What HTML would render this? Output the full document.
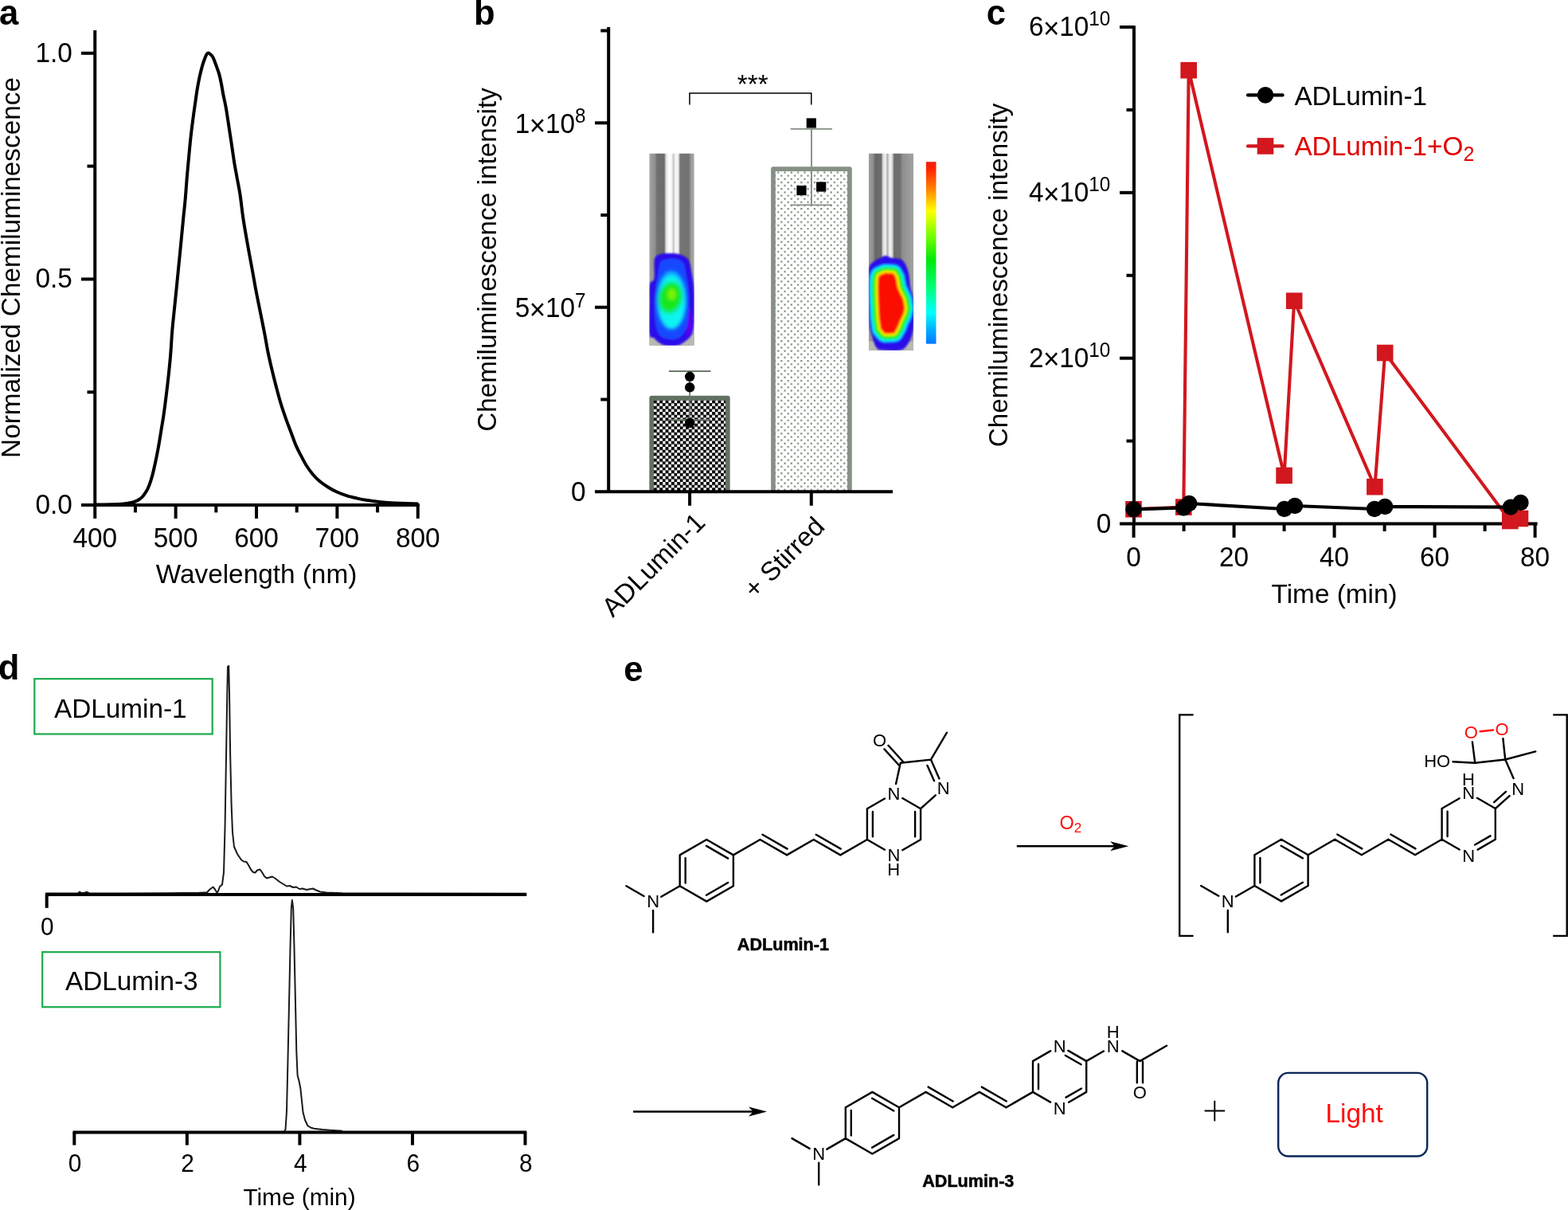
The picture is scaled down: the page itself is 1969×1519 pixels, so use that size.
<!DOCTYPE html>
<html lang="en"><head><meta charset="utf-8"><title>ADLumin-1 chemiluminescence figure</title>
<style>
html,body{margin:0;padding:0;background:#fff;}
body{width:1969px;height:1519px;overflow:hidden;}
svg{display:block;}
svg text{font-family:"Liberation Sans",sans-serif;fill:#000;}
.t{font-size:33.33px;}
.s{font-size:29.8px;}
.pl{font-size:43.6px;font-weight:bold;}
.ax{stroke:#000;stroke-width:4;fill:none;stroke-linecap:butt;}
.bond{stroke:#000;stroke-width:1.9;fill:none;stroke-linecap:round;}
.ml{font-size:21.6px;font-weight:bold;stroke:#000;stroke-width:0.55px;}
</style></head><body>
<svg width="1969" height="1519" viewBox="0 0 1969 1519">
<rect width="1969" height="1519" fill="#fff"/>
<g id="panel-a">
<text class="pl" x="-0.9" y="31" text-anchor="start">a</text>
<line class="ax" x1="119.25" y1="38" x2="119.25" y2="635.5"/>
<line class="ax" x1="102" y1="634" x2="526.8" y2="634"/>
<line class="ax" x1="102" y1="66.8" x2="119.25" y2="66.8"/>
<text class="t" transform="translate(90.8,77.7) scale(0.9579,1)" style="font-size:34.80px" text-anchor="end">1.0</text>
<line class="ax" x1="102" y1="350.45" x2="119.25" y2="350.45"/>
<text class="t" transform="translate(90.8,361.35) scale(0.9579,1)" style="font-size:34.80px" text-anchor="end">0.5</text>
<text class="t" transform="translate(90.8,645) scale(0.9579,1)" style="font-size:34.80px" text-anchor="end">0.0</text>
<line class="ax" x1="109.5" y1="208.63" x2="119.25" y2="208.63"/>
<line class="ax" x1="109.5" y1="492.28" x2="119.25" y2="492.28"/>
<line class="ax" x1="119.25" y1="634" x2="119.25" y2="651"/>
<text class="t" transform="translate(119.25,687.2) scale(0.9579,1)" style="font-size:34.80px" text-anchor="middle">400</text>
<line class="ax" x1="220.62" y1="634" x2="220.62" y2="651"/>
<text class="t" transform="translate(220.62,687.2) scale(0.9579,1)" style="font-size:34.80px" text-anchor="middle">500</text>
<line class="ax" x1="321.99" y1="634" x2="321.99" y2="651"/>
<text class="t" transform="translate(321.99,687.2) scale(0.9579,1)" style="font-size:34.80px" text-anchor="middle">600</text>
<line class="ax" x1="423.36" y1="634" x2="423.36" y2="651"/>
<text class="t" transform="translate(423.36,687.2) scale(0.9579,1)" style="font-size:34.80px" text-anchor="middle">700</text>
<line class="ax" x1="524.73" y1="634" x2="524.73" y2="651"/>
<text class="t" transform="translate(524.73,687.2) scale(0.9579,1)" style="font-size:34.80px" text-anchor="middle">800</text>
<line class="ax" x1="169.94" y1="634" x2="169.94" y2="643.4"/>
<line class="ax" x1="271.31" y1="634" x2="271.31" y2="643.4"/>
<line class="ax" x1="372.68" y1="634" x2="372.68" y2="643.4"/>
<line class="ax" x1="474.05" y1="634" x2="474.05" y2="643.4"/>
<text class="t" x="322" y="731.7" text-anchor="middle">Wavelength (nm)</text>
<text class="t" x="0" y="0" text-anchor="middle" transform="translate(24.9,336) rotate(-90)">Normalized Chemiluminescence</text>
<path d="M121,633.6C124.17,633.55 134.33,633.47 140,633.3C145.67,633.13 151.55,632.87 155,632.6C158.45,632.33 158.67,632.07 160.7,631.7C162.73,631.33 165.43,630.87 167.2,630.4C168.97,629.93 169.95,629.53 171.3,628.9C172.65,628.27 173.95,627.58 175.3,626.6C176.65,625.62 178.18,624.35 179.4,623C180.62,621.65 181.65,619.93 182.6,618.5C183.55,617.07 184.28,616.02 185.1,614.4C185.92,612.78 186.68,610.97 187.5,608.8C188.32,606.63 189.18,604.12 190,601.4C190.82,598.68 191.67,595.47 192.4,592.5C193.13,589.53 193.72,586.72 194.4,583.6C195.08,580.48 195.88,576.78 196.5,573.8C197.12,570.82 197.58,568.45 198.1,565.7C198.62,562.95 198.88,561.53 199.6,557.3C200.32,553.07 201.42,546.33 202.4,540.3C203.38,534.27 204.47,528.22 205.5,521.1C206.53,513.98 207.55,506.13 208.6,497.6C209.65,489.07 210.87,478.67 211.8,469.9C212.73,461.13 213.45,454.22 214.2,445C214.95,435.78 215.53,423.83 216.3,414.6C217.07,405.37 217.93,398.17 218.8,389.6C219.67,381.03 220.62,371.98 221.5,363.2C222.38,354.42 223.17,346.33 224.1,336.9C225.03,327.47 226.12,316.7 227.1,306.6C228.08,296.5 229.07,285.73 230,276.3C230.93,266.87 231.85,259.18 232.67,250C233.49,240.82 234.13,230.38 234.9,221.2C235.67,212.02 236.53,203.02 237.3,194.9C238.07,186.78 238.73,179.53 239.5,172.5C240.27,165.47 241.02,159.5 241.9,152.7C242.78,145.9 243.83,138.5 244.8,131.7C245.77,124.9 246.72,117.83 247.7,111.9C248.68,105.97 249.65,100.93 250.7,96.1C251.75,91.27 253.02,86.42 254,82.9C254.98,79.38 255.72,77.42 256.6,75C257.48,72.58 258.48,69.8 259.3,68.4C260.12,67 260.63,66.6 261.5,66.6C262.37,66.6 263.55,67.58 264.5,68.4C265.45,69.22 266.32,69.95 267.2,71.5C268.08,73.05 268.93,75.47 269.8,77.7C270.67,79.93 271.52,82.42 272.4,84.9C273.28,87.38 274.22,89.42 275.1,92.6C275.98,95.78 276.83,99.68 277.7,104C278.57,108.32 279.32,113.45 280.3,118.5C281.28,123.55 282.6,128.82 283.6,134.3C284.6,139.78 285.42,145.7 286.3,151.4C287.18,157.1 288.03,162.78 288.9,168.5C289.77,174.22 290.62,179.77 291.5,185.7C292.38,191.63 293.2,197.97 294.2,204.1C295.2,210.23 296.3,215.92 297.5,222.5C298.7,229.08 300.13,235.28 301.4,243.6C302.67,251.92 303.83,263.65 305.1,272.4C306.37,281.15 307.68,288.42 309,296.1C310.32,303.78 311.68,311.27 313,318.5C314.32,325.73 315.58,332.27 316.9,339.5C318.22,346.73 319.58,354.87 320.9,361.9C322.22,368.93 323.48,375.12 324.8,381.7C326.12,388.28 327.48,394.82 328.8,401.4C330.12,407.98 331.42,414.43 332.7,421.2C333.98,427.97 335.15,435.32 336.5,442C337.85,448.68 339.2,454.52 340.8,461.3C342.4,468.08 344.15,475.23 346.1,482.7C348.05,490.17 350.37,499 352.5,506.1C354.63,513.2 356.77,519.25 358.9,525.3C361.03,531.35 363.17,536.72 365.3,542.4C367.43,548.08 369.57,554.43 371.7,559.4C373.83,564.37 375.97,568.1 378.1,572.2C380.23,576.3 382.02,580.08 384.5,584C386.98,587.92 390.15,592.33 393,595.7C395.85,599.07 398.4,601.53 401.6,604.2C404.8,606.87 408.65,609.48 412.2,611.7C415.75,613.92 418.98,615.72 422.9,617.5C426.82,619.28 431.43,621.05 435.7,622.4C439.97,623.75 444.23,624.65 448.5,625.6C452.77,626.55 456.32,627.32 461.3,628.1C466.28,628.88 472.72,629.73 478.4,630.3C484.08,630.87 487.58,631.12 495.4,631.5C503.22,631.88 520.32,632.42 525.3,632.6" fill="none" stroke="#000" stroke-width="4" stroke-linejoin="round"/>
</g>
<g id="panel-b">
<defs>
<pattern id="chk" width="7.33" height="7.33" patternUnits="userSpaceOnUse" x="820.9" y="502.4">
<rect width="7.33" height="7.33" fill="#fff"/><rect width="4" height="4" fill="#000"/><rect x="3.665" y="3.665" width="4" height="4" fill="#000"/>
</pattern>
<pattern id="dots" width="8.3" height="8.3" patternUnits="userSpaceOnUse" x="980.3" y="219.55">
<rect width="8.3" height="8.3" fill="#fff"/><rect x="0" y="0" width="2.2" height="2.2" fill="#7c8c7c"/><rect x="4.15" y="4.15" width="2.2" height="2.2" fill="#7c8c7c"/>
</pattern>
<linearGradient id="tgL" x1="0" x2="1" y1="0" y2="0">
<stop offset="0" stop-color="#a4a4a4"/><stop offset="0.13" stop-color="#8e8e8e"/><stop offset="0.17" stop-color="#707070"/><stop offset="0.33" stop-color="#6c6c6c"/><stop offset="0.38" stop-color="#e8e8e8"/><stop offset="0.45" stop-color="#ffffff"/><stop offset="0.5" stop-color="#f4f4f4"/><stop offset="0.54" stop-color="#c4c4c4"/><stop offset="0.58" stop-color="#f8f8f8"/><stop offset="0.64" stop-color="#f0f0f0"/><stop offset="0.69" stop-color="#767676"/><stop offset="0.88" stop-color="#727272"/><stop offset="0.93" stop-color="#9c9c9c"/><stop offset="1" stop-color="#a8a8a8"/>
</linearGradient>
<linearGradient id="tgR" x1="0" x2="1" y1="0" y2="0">
<stop offset="0" stop-color="#a0a0a0"/><stop offset="0.1" stop-color="#8c8c8c"/><stop offset="0.15" stop-color="#666"/><stop offset="0.28" stop-color="#6e6e6e"/><stop offset="0.32" stop-color="#d8d8d8"/><stop offset="0.37" stop-color="#f2f2f2"/><stop offset="0.42" stop-color="#b0b0b0"/><stop offset="0.47" stop-color="#f4f4f4"/><stop offset="0.52" stop-color="#e0e0e0"/><stop offset="0.57" stop-color="#6c6c6c"/><stop offset="0.7" stop-color="#707070"/><stop offset="0.76" stop-color="#909090"/><stop offset="1" stop-color="#a2a2a2"/>
</linearGradient>
<linearGradient id="cbar" x1="0" x2="0" y1="0" y2="1">
<stop offset="0" stop-color="#f01c10"/><stop offset="0.04" stop-color="#ff2400"/><stop offset="0.15" stop-color="#ff8400"/><stop offset="0.27" stop-color="#ffff00"/><stop offset="0.4" stop-color="#7dff00"/><stop offset="0.54" stop-color="#00e80a"/><stop offset="0.7" stop-color="#00ff80"/><stop offset="0.83" stop-color="#00ffff"/><stop offset="0.93" stop-color="#00a8ff"/><stop offset="1" stop-color="#0078ff"/>
</linearGradient>
<filter id="blr" x="-20%" y="-20%" width="140%" height="140%"><feGaussianBlur stdDeviation="1"/></filter>
<filter id="blr2" x="-20%" y="-20%" width="140%" height="140%"><feGaussianBlur stdDeviation="2.2"/></filter>
<clipPath id="clipL"><rect x="815.3" y="192.5" width="56.5" height="241.3"/></clipPath>
<clipPath id="clipR"><rect x="1090.8" y="192.5" width="56.4" height="247.4"/></clipPath>
</defs>
<text class="pl" x="595" y="31.2" text-anchor="start">b</text>
<rect x="818.25" y="499.55" width="95.6" height="117.65" fill="url(#chk)"/>
<path d="M818.25,617.2V499.55H913.85V617.2" fill="none" stroke="#617161" stroke-width="5.7" stroke-linejoin="round"/>
<rect x="970.95" y="212.15" width="96" height="405.05" fill="url(#dots)"/>
<path d="M970.95,617.2V212.15H1066.95V617.2" fill="none" stroke="#869085" stroke-width="5.7" stroke-linejoin="round"/>
<path d="M840,466H892.5M866.2,466V526.8M840,526.8H892.5" stroke="#6b7b6b" stroke-width="1.8" fill="none"/>
<path d="M992.7,161.9H1045M1019,161.9V257.4M992.7,257.4H1045" stroke="#869085" stroke-width="1.9" fill="none"/>
<circle cx="866.2" cy="472.8" r="6.2" fill="#000"/>
<circle cx="866.2" cy="486.3" r="6.2" fill="#000"/>
<circle cx="866.2" cy="530.8" r="6.2" fill="#000"/>
<rect x="1012.7" y="148.4" width="12.2" height="12.2" fill="#000"/>
<rect x="1000.4" y="233" width="12.2" height="12.2" fill="#000"/>
<rect x="1025.1" y="228.4" width="12.2" height="12.2" fill="#000"/>
<line class="ax" x1="764.2" y1="34.1" x2="764.2" y2="618.7"/>
<line class="ax" x1="747" y1="617.2" x2="1121" y2="617.2"/>
<line class="ax" x1="747" y1="154.3" x2="764.2" y2="154.3"/>
<line class="ax" x1="747" y1="385.75" x2="764.2" y2="385.75"/>
<line class="ax" x1="754.3" y1="270.03" x2="764.2" y2="270.03"/>
<line class="ax" x1="754.3" y1="501.48" x2="764.2" y2="501.48"/>
<line class="ax" x1="754.3" y1="38.5" x2="764.2" y2="38.5"/>
<text class="t" transform="translate(735.6,167) scale(0.9579,1)" style="font-size:34.80px" text-anchor="end">1<tspan font-size="36.5" dx="-0.6" dy="2.6">×</tspan><tspan dx="-0.2" dy="-2.6">10</tspan><tspan font-size="25.4" dy="-12.8">8</tspan></text>
<text class="t" transform="translate(735.6,398.45) scale(0.9579,1)" style="font-size:34.80px" text-anchor="end">5<tspan font-size="36.5" dx="-0.6" dy="2.6">×</tspan><tspan dx="-0.2" dy="-2.6">10</tspan><tspan font-size="25.4" dy="-12.8">7</tspan></text>
<text class="t" transform="translate(735.5,629.2) scale(0.9579,1)" style="font-size:34.80px" text-anchor="end">0</text>
<line class="ax" x1="866.1" y1="617.2" x2="866.1" y2="634.8"/>
<line class="ax" x1="1018.8" y1="617.2" x2="1018.8" y2="634.8"/>
<path d="M866,131.6V117H1018.8V131.6" stroke="#000" stroke-width="1.5" fill="none"/>
<text class="t" x="945.3" y="116.6" text-anchor="middle">***</text>
<text class="t" x="0" y="0" text-anchor="middle" transform="translate(622.7,326) rotate(-90)">Chemiluminescence intensity</text>
<text class="t" x="0" y="0" text-anchor="end" transform="translate(887.3,658) rotate(-45)">ADLumin-1</text>
<text class="t" x="0" y="0" text-anchor="end" transform="translate(1037.4,663) rotate(-45)">+ Stirred</text>
<g clip-path="url(#clipL)">
<rect x="815.3" y="192.5" width="56.5" height="241.3" fill="url(#tgL)"/>
<rect x="815.3" y="420.5" width="56.5" height="13.300000000000011" fill="#b9b9b2"/>
<g filter="url(#blr)">
<path d="M831.7,318.6C836.15,317.95 845.43,317.95 850.2,318.6C854.97,319.25 857.8,321 860.3,322.5C862.8,324 863.78,323.98 865.2,327.6C866.62,331.22 867.73,338.05 868.8,344.2C869.87,350.35 871.13,355.2 871.6,364.5C872.07,373.8 872.07,390.93 871.6,400C871.13,409.07 870.68,414.13 868.8,418.9C866.92,423.67 863.4,426.08 860.3,428.6C857.2,431.12 854.2,433.1 850.2,434C846.2,434.9 840.22,434.75 836.3,434C832.38,433.25 829.17,431.1 826.7,429.5C824.23,427.9 823.35,426.15 821.5,424.4C819.65,422.65 816.58,426.4 815.6,419C814.62,411.6 815.53,390.33 815.6,380C815.67,369.67 815,362 816,357C817,352 820.67,354.5 821.6,350C822.53,345.5 821.28,334.58 821.6,330C821.92,325.42 821.82,324.4 823.5,322.5C825.18,320.6 827.25,319.25 831.7,318.6Z" fill="#2a08ea"/>
<path d="M862,380 Q871,390 869,415 L862,425 Z" fill="#5a06f4"/>
<path d="M834,326C837.17,325.17 844,324.33 848,325C852,325.67 855.75,326.67 858,330C860.25,333.33 860.42,339.17 861.5,345C862.58,350.83 864,356.67 864.5,365C865,373.33 865.08,386.83 864.5,395C863.92,403.17 863.08,409.08 861,414C858.92,418.92 855.83,422.58 852,424.5C848.17,426.42 842,426.25 838,425.5C834,424.75 830.5,423.42 828,420C825.5,416.58 824,411.67 823,405C822,398.33 821.83,387.5 822,380C822.17,372.5 823.17,366.67 824,360C824.83,353.33 826.17,345 827,340C827.83,335 827.83,332.33 829,330C830.17,327.67 830.83,326.83 834,326Z" fill="#1248ff"/>
</g>
<g filter="url(#blr2)">
<ellipse cx="843.2" cy="377" rx="19" ry="37" fill="#0cb4ff"/>
<ellipse cx="843.4" cy="379" rx="16.5" ry="33" fill="#08f4f0"/>
<ellipse cx="842" cy="373.5" rx="15.3" ry="21" fill="#08ec84" transform="rotate(12 842 373)"/>
<ellipse cx="842" cy="373" rx="12.8" ry="17.5" fill="#14e81c" transform="rotate(12 842 372.5)"/>
<ellipse cx="843.5" cy="369.5" rx="5" ry="7" fill="#7cf400"/>
</g>
</g>
<g clip-path="url(#clipR)">
<rect x="1090.8" y="192.5" width="56.4" height="247.4" fill="url(#tgR)"/>
<rect x="1090.8" y="428.5" width="56.4" height="11.400000000000006" fill="#b9b9b2"/>
<g filter="url(#blr)">
<path d="M1111.6,321C1113.85,321 1116.2,322.92 1119.5,323.7C1122.8,324.48 1128.43,324.22 1131.4,325.7C1134.37,327.18 1135.67,329.48 1137.3,332.6C1138.93,335.72 1140.22,339.63 1141.2,344.4C1142.18,349.17 1142.45,357.08 1143.2,361.2C1143.95,365.32 1145,366.13 1145.7,369.1C1146.4,372.07 1147.12,372.85 1147.4,379C1147.68,385.15 1147.8,399 1147.4,406C1147,413 1146.32,416.58 1145,421C1143.68,425.42 1141.83,429.43 1139.5,432.5C1137.17,435.57 1136.17,438.22 1131,439.4C1125.83,440.58 1113.58,440.12 1108.5,439.6C1103.42,439.08 1102.58,438.82 1100.5,436.3C1098.42,433.78 1097.43,429.12 1096,424.5C1094.57,419.88 1092.78,416.18 1091.9,408.6C1091.02,401.02 1090.9,389.7 1090.7,379C1090.5,368.3 1090.35,352.13 1090.7,344.4C1091.05,336.67 1091.28,335.55 1092.8,332.6C1094.32,329.65 1097.6,328.18 1099.8,326.7C1102,325.22 1104.03,324.65 1106,323.7C1107.97,322.75 1109.35,321 1111.6,321Z" fill="#2a08ea"/>
<path d="M1104.7,346.4L1111.6,343.5L1121.5,344L1124.4,349.4L1126.4,361.2L1129.4,368.1L1133.3,376L1135.3,386.9L1133.3,394.8L1129.4,402.7L1126.4,410.6L1122.5,417.5L1111.6,418L1106.7,412.6L1104.7,398.8L1103.7,379L1103.2,359.3L1103.7,349.4Z" fill="#1058ff" stroke="#1058ff" stroke-width="25.5" stroke-linejoin="round"/>
<path d="M1104.7,346.4L1111.6,343.5L1121.5,344L1124.4,349.4L1126.4,361.2L1129.4,368.1L1133.3,376L1135.3,386.9L1133.3,394.8L1129.4,402.7L1126.4,410.6L1122.5,417.5L1111.6,418L1106.7,412.6L1104.7,398.8L1103.7,379L1103.2,359.3L1103.7,349.4Z" fill="#08b8ff" stroke="#08b8ff" stroke-width="23" stroke-linejoin="round"/>
<path d="M1104.7,346.4L1111.6,343.5L1121.5,344L1124.4,349.4L1126.4,361.2L1129.4,368.1L1133.3,376L1135.3,386.9L1133.3,394.8L1129.4,402.7L1126.4,410.6L1122.5,417.5L1111.6,418L1106.7,412.6L1104.7,398.8L1103.7,379L1103.2,359.3L1103.7,349.4Z" fill="#08f4e8" stroke="#08f4e8" stroke-width="20.5" stroke-linejoin="round"/>
<path d="M1104.7,346.4L1111.6,343.5L1121.5,344L1124.4,349.4L1126.4,361.2L1129.4,368.1L1133.3,376L1135.3,386.9L1133.3,394.8L1129.4,402.7L1126.4,410.6L1122.5,417.5L1111.6,418L1106.7,412.6L1104.7,398.8L1103.7,379L1103.2,359.3L1103.7,349.4Z" fill="#10f080" stroke="#10f080" stroke-width="17" stroke-linejoin="round"/>
<path d="M1104.7,346.4L1111.6,343.5L1121.5,344L1124.4,349.4L1126.4,361.2L1129.4,368.1L1133.3,376L1135.3,386.9L1133.3,394.8L1129.4,402.7L1126.4,410.6L1122.5,417.5L1111.6,418L1106.7,412.6L1104.7,398.8L1103.7,379L1103.2,359.3L1103.7,349.4Z" fill="#30ee10" stroke="#30ee10" stroke-width="13.5" stroke-linejoin="round"/>
<path d="M1104.7,346.4L1111.6,343.5L1121.5,344L1124.4,349.4L1126.4,361.2L1129.4,368.1L1133.3,376L1135.3,386.9L1133.3,394.8L1129.4,402.7L1126.4,410.6L1122.5,417.5L1111.6,418L1106.7,412.6L1104.7,398.8L1103.7,379L1103.2,359.3L1103.7,349.4Z" fill="#b4f400" stroke="#b4f400" stroke-width="9" stroke-linejoin="round"/>
<path d="M1104.7,346.4L1111.6,343.5L1121.5,344L1124.4,349.4L1126.4,361.2L1129.4,368.1L1133.3,376L1135.3,386.9L1133.3,394.8L1129.4,402.7L1126.4,410.6L1122.5,417.5L1111.6,418L1106.7,412.6L1104.7,398.8L1103.7,379L1103.2,359.3L1103.7,349.4Z" fill="#ffe000" stroke="#ffe000" stroke-width="6" stroke-linejoin="round"/>
<path d="M1104.7,346.4L1111.6,343.5L1121.5,344L1124.4,349.4L1126.4,361.2L1129.4,368.1L1133.3,376L1135.3,386.9L1133.3,394.8L1129.4,402.7L1126.4,410.6L1122.5,417.5L1111.6,418L1106.7,412.6L1104.7,398.8L1103.7,379L1103.2,359.3L1103.7,349.4Z" fill="#ff8a00" stroke="#ff8a00" stroke-width="2.8" stroke-linejoin="round"/>
<path d="M1104.7,346.4L1111.6,343.5L1121.5,344L1124.4,349.4L1126.4,361.2L1129.4,368.1L1133.3,376L1135.3,386.9L1133.3,394.8L1129.4,402.7L1126.4,410.6L1122.5,417.5L1111.6,418L1106.7,412.6L1104.7,398.8L1103.7,379L1103.2,359.3L1103.7,349.4Z" fill="#fb0a04"/>
</g>
</g>
<rect x="1162.9" y="203.2" width="12.6" height="228.4" fill="url(#cbar)"/>
</g>
<g id="panel-c">
<text class="pl" x="1238.7" y="31.1" text-anchor="start">c</text>
<line class="ax" x1="1424" y1="32.2" x2="1424" y2="659.3"/>
<line class="ax" x1="1406" y1="657.5" x2="1930.6" y2="657.5"/>
<line class="ax" x1="1406" y1="34" x2="1424" y2="34"/>
<text class="t" transform="translate(1394.3,45.1) scale(0.9579,1)" style="font-size:34.80px" text-anchor="end">6<tspan font-size="36.5" dx="-0.6" dy="2.6">×</tspan><tspan dx="-0.2" dy="-2.6">10</tspan><tspan font-size="25.4" dy="-12.8">10</tspan></text>
<line class="ax" x1="1406" y1="241.83" x2="1424" y2="241.83"/>
<text class="t" transform="translate(1394.3,252.93) scale(0.9579,1)" style="font-size:34.80px" text-anchor="end">4<tspan font-size="36.5" dx="-0.6" dy="2.6">×</tspan><tspan dx="-0.2" dy="-2.6">10</tspan><tspan font-size="25.4" dy="-12.8">10</tspan></text>
<line class="ax" x1="1406" y1="449.67" x2="1424" y2="449.67"/>
<text class="t" transform="translate(1394.3,460.77) scale(0.9579,1)" style="font-size:34.80px" text-anchor="end">2<tspan font-size="36.5" dx="-0.6" dy="2.6">×</tspan><tspan dx="-0.2" dy="-2.6">10</tspan><tspan font-size="25.4" dy="-12.8">10</tspan></text>
<line class="ax" x1="1414.5" y1="137.92" x2="1424" y2="137.92"/>
<line class="ax" x1="1414.5" y1="345.75" x2="1424" y2="345.75"/>
<line class="ax" x1="1414.5" y1="553.58" x2="1424" y2="553.58"/>
<text class="t" transform="translate(1395.3,668.7) scale(0.9579,1)" style="font-size:34.80px" text-anchor="end">0</text>
<line class="ax" x1="1423.6" y1="657.5" x2="1423.6" y2="674.9"/>
<text class="t" transform="translate(1423.6,711) scale(0.9579,1)" style="font-size:34.80px" text-anchor="middle">0</text>
<line class="ax" x1="1549.6" y1="657.5" x2="1549.6" y2="674.9"/>
<text class="t" transform="translate(1549.6,711) scale(0.9579,1)" style="font-size:34.80px" text-anchor="middle">20</text>
<line class="ax" x1="1675.6" y1="657.5" x2="1675.6" y2="674.9"/>
<text class="t" transform="translate(1675.6,711) scale(0.9579,1)" style="font-size:34.80px" text-anchor="middle">40</text>
<line class="ax" x1="1801.6" y1="657.5" x2="1801.6" y2="674.9"/>
<text class="t" transform="translate(1801.6,711) scale(0.9579,1)" style="font-size:34.80px" text-anchor="middle">60</text>
<line class="ax" x1="1927.6" y1="657.5" x2="1927.6" y2="674.9"/>
<text class="t" transform="translate(1927.6,711) scale(0.9579,1)" style="font-size:34.80px" text-anchor="middle">80</text>
<line class="ax" x1="1486.6" y1="657.5" x2="1486.6" y2="667"/>
<line class="ax" x1="1612.6" y1="657.5" x2="1612.6" y2="667"/>
<line class="ax" x1="1738.6" y1="657.5" x2="1738.6" y2="667"/>
<line class="ax" x1="1864.6" y1="657.5" x2="1864.6" y2="667"/>
<text class="t" x="1675.6" y="756.6" text-anchor="middle">Time (min)</text>
<text class="t" x="0" y="0" text-anchor="middle" transform="translate(1265.0,345.5) rotate(-90)">Chemiluminescence intensity</text>
<path d="M1423.5,639.3L1486.3,636.6L1492.7,88.2L1612.6,597L1625.2,377.7L1726.4,611.2L1739.2,443L1896.3,654L1909,651" stroke="#d2171e" stroke-width="4.1" fill="none" stroke-linejoin="miter"/>
<rect x="1413.2" y="629" width="20.6" height="20.6" fill="#d2171e"/>
<rect x="1476" y="626.3" width="20.6" height="20.6" fill="#d2171e"/>
<rect x="1482.4" y="77.9" width="20.6" height="20.6" fill="#d2171e"/>
<rect x="1602.3" y="586.7" width="20.6" height="20.6" fill="#d2171e"/>
<rect x="1614.9" y="367.4" width="20.6" height="20.6" fill="#d2171e"/>
<rect x="1716.1" y="600.9" width="20.6" height="20.6" fill="#d2171e"/>
<rect x="1728.9" y="432.7" width="20.6" height="20.6" fill="#d2171e"/>
<rect x="1886" y="643.7" width="20.6" height="20.6" fill="#d2171e"/>
<rect x="1898.7" y="640.7" width="20.6" height="20.6" fill="#d2171e"/>
<path d="M1423.5,639.3L1486.3,637.5L1493.2,632L1612.8,639L1626,635L1726,639L1739.2,636L1897,636.6L1909.5,631" stroke="#000" stroke-width="4.2" fill="none" stroke-linejoin="round"/>
<circle cx="1423.5" cy="639.3" r="10.2" fill="#000"/>
<circle cx="1486.3" cy="637.5" r="10.2" fill="#000"/>
<circle cx="1493.2" cy="632" r="10.2" fill="#000"/>
<circle cx="1612.8" cy="639" r="10.2" fill="#000"/>
<circle cx="1626" cy="635" r="10.2" fill="#000"/>
<circle cx="1726" cy="639" r="10.2" fill="#000"/>
<circle cx="1739.2" cy="636" r="10.2" fill="#000"/>
<circle cx="1897" cy="636.6" r="10.2" fill="#000"/>
<circle cx="1909.5" cy="631" r="10.2" fill="#000"/>
<line x1="1567" y1="119.4" x2="1610.6" y2="119.4" stroke="#000" stroke-width="4.2" stroke-linecap="round"/>
<circle cx="1589" cy="119.4" r="10.3" fill="#000"/>
<text class="t" x="1625.4" y="131.7" text-anchor="start">ADLumin-1</text>
<line x1="1567" y1="183.4" x2="1610.6" y2="183.4" stroke="#d2171e" stroke-width="4.2" stroke-linecap="round"/>
<rect x="1578.7" y="173.1" width="20.6" height="20.6" fill="#d2171e"/>
<text class="t" x="1625.4" y="194.6" fill="#e00000" style="fill:#e00000">ADLumin-1+O<tspan font-size="25" dy="7.5">2</tspan></text>
</g>
<g id="panel-d">
<text class="pl" x="-2.2" y="853.1" text-anchor="start">d</text>
<rect x="43.3" y="852.2" width="223.4" height="69.3" fill="#fff" stroke="#1aab4d" stroke-width="2.2"/>
<text class="t" x="151.3" y="900.5" text-anchor="middle">ADLumin-1</text>
<rect x="53.2" y="1195.2" width="223.2" height="69" fill="#fff" stroke="#1aab4d" stroke-width="2.2"/>
<text class="t" x="165.3" y="1243" text-anchor="middle">ADLumin-3</text>
<path d="M57,1121.5L98,1121.3L100,1119.6L102,1121L106,1120.8L109,1119.8L112,1121.2L150,1121.6L210,1121.3L250,1120.8L260,1120.3L263.5,1116.5L267.5,1113.5L270,1116.5L272.5,1120.7L274,1118.5L276,1113L279,1110.5L281,1095L282.5,1040L284,950L285.3,870L286,837L287.2,836L288,870L289.2,950L290.6,1010L292,1045L294,1063L298,1072L303,1079.5L306,1081.5L309.5,1082L312,1086L315,1091.5L318,1095L320.5,1095.5L323,1092.5L326.5,1091.5L329,1095L332,1100L335,1102.5L338.5,1101.5L342,1100.5L346,1103L351,1107L356,1110L360,1112.5L364,1112L368,1114L372,1113.5L376,1116L380,1115.5L385,1117L390,1116L393,1115.5L397,1117.5L402,1119.5L410,1120.5L430,1121.2L470,1121.5L661,1121.8" stroke="#1a1a1a" stroke-width="2" fill="none" stroke-linejoin="round"/>
<line class="ax" x1="57" y1="1122.9" x2="661.3" y2="1122.9"/>
<line class="ax" x1="58.7" y1="1122.9" x2="58.7" y2="1139.8"/>
<text class="s" transform="translate(59.3,1174.1) scale(0.9579,1)" style="font-size:31.11px" text-anchor="middle">0</text>
<path d="M357,1420L358.5,1418L360,1395L361.5,1330L363,1260L364.5,1190L365.8,1140L366.8,1130L368.2,1140L369.5,1190L371,1260L372.3,1320L373.6,1350L375.5,1357L377.4,1366.8L379,1382L380.5,1396.3L383,1406L386.4,1413.2L390,1415.5L394.2,1416.7L405,1418L414.2,1418.8L430,1419.8" stroke="#1a1a1a" stroke-width="2" fill="none" stroke-linejoin="round"/>
<line class="ax" x1="91.5" y1="1421.4" x2="661.3" y2="1421.4"/>
<line class="ax" x1="93.3" y1="1421.4" x2="93.3" y2="1437.6"/>
<text class="s" transform="translate(94.1,1470.6) scale(0.9579,1)" style="font-size:31.11px" text-anchor="middle">0</text>
<line class="ax" x1="234.85" y1="1421.4" x2="234.85" y2="1437.6"/>
<text class="s" transform="translate(235.65,1470.6) scale(0.9579,1)" style="font-size:31.11px" text-anchor="middle">2</text>
<line class="ax" x1="376.4" y1="1421.4" x2="376.4" y2="1437.6"/>
<text class="s" transform="translate(377.2,1470.6) scale(0.9579,1)" style="font-size:31.11px" text-anchor="middle">4</text>
<line class="ax" x1="517.95" y1="1421.4" x2="517.95" y2="1437.6"/>
<text class="s" transform="translate(518.75,1470.6) scale(0.9579,1)" style="font-size:31.11px" text-anchor="middle">6</text>
<line class="ax" x1="659.5" y1="1421.4" x2="659.5" y2="1437.6"/>
<text class="s" transform="translate(660.3,1470.6) scale(0.9579,1)" style="font-size:31.11px" text-anchor="middle">8</text>
<text class="s" x="376" y="1512.6" text-anchor="middle">Time (min)</text>
</g>
<g id="panel-e">
<text class="pl" x="783.3" y="854.8" text-anchor="start">e</text>
<path d="M887.3,1054L920.9,1073.4M887,1061.91L914.2,1077.61M920.9,1073.4L920.9,1112.2M920.9,1112.2L887.3,1131.6M914.2,1107.99L887,1123.69M887.3,1131.6L853.7,1112.2M853.7,1112.2L853.7,1073.4M860.7,1108.5L860.7,1077.1M853.7,1073.4L887.3,1054M853.7,1112.2L830.23,1125.75M808.58,1124.95L786.49,1112.2M820.1,1142.9L820.1,1170.4M920.9,1073.4L954.5,1054M954.5,1054L988.11,1073.4M957.57,1047.69L988.57,1065.59M988.11,1073.4L1021.71,1054M1021.71,1054L1055.31,1073.4M1024.77,1047.69L1055.78,1065.59M1055.31,1073.4L1088.91,1054M1088.91,1054L1088.91,1015.2M1095.91,1050.3L1095.91,1018.9M1088.91,1015.2L1110.99,1002.45M1133.25,1002L1156.11,1015.2M1156.11,1015.2L1156.11,1054M1149.11,1018.9L1149.11,1050.3M1156.11,1054L1133.25,1067.2M1110.99,1066.75L1088.91,1054M1125.07,984.07L1130.81,957.7M1130.81,957.7L1168.91,953.6M1168.91,953.6L1179.45,977.41M1164.49,960.91L1173.05,980.25M1174.78,998.29L1156.11,1015.2M1129.91,961.76L1110.44,940.36M1134.94,957.19L1115.47,935.78M1168.91,953.6L1189.01,919.7" stroke="#000" stroke-width="2.4" fill="none" stroke-linecap="round" stroke-linejoin="round"/>
<text x="820.1" y="1139.48" font-size="22" text-anchor="middle">N</text>
<text x="1122.51" y="1003.68" font-size="22" text-anchor="middle">N</text>
<text x="1122.51" y="1081.28" font-size="22" text-anchor="middle">N</text>
<text x="1122.31" y="1098.88" font-size="22" text-anchor="middle">H</text>
<text x="1184.71" y="997.18" font-size="22" text-anchor="middle">N</text>
<text x="1104.61" y="936.78" font-size="22" text-anchor="middle">O</text>
<text class="ml" x="983.4" y="1193.4" text-anchor="middle">ADLumin-1</text>
<line x1="1276.8" y1="1062.3" x2="1400.2" y2="1062.3" stroke="#000" stroke-width="2.4"/>
<path d="M1417.2,1062.3L1394.2,1056.3L1399.7,1062.3L1394.2,1068.3Z" fill="#000"/>
<text x="1330.4" y="1040.6" font-size="23.5" fill="#ff0d0d" style="fill:#ff0d0d">O<tspan font-size="17" dy="4.6">2</tspan></text>
<path d="M1498.6,897.4H1481.2V1174.9H1498.6M1950.2,897.4H1967.7V1174.9H1950.2" stroke="#000" stroke-width="2.4" fill="none"/>
<path d="M1609,1053.8L1642.6,1073.2M1608.7,1061.71L1635.9,1077.41M1642.6,1073.2L1642.6,1112M1642.6,1112L1609,1131.4M1635.9,1107.79L1608.7,1123.49M1609,1131.4L1575.4,1112M1575.4,1112L1575.4,1073.2M1582.4,1108.3L1582.4,1076.9M1575.4,1073.2L1609,1053.8M1575.4,1112L1551.93,1125.55M1530.28,1124.75L1508.19,1112M1541.8,1142.7L1541.8,1170.2M1642.6,1073.2L1676.2,1053.8M1676.2,1053.8L1709.81,1073.2M1679.27,1047.49L1710.27,1065.39M1709.81,1073.2L1743.41,1053.8M1743.41,1053.8L1777.01,1073.2M1746.47,1047.49L1777.48,1065.39M1777.01,1073.2L1810.61,1053.8M1810.61,1053.8L1810.61,1015M1817.61,1050.1L1817.61,1018.7M1810.61,1015L1832.69,1002.25M1854.95,1001.8L1877.81,1015M1877.81,1015L1877.81,1053.8M1877.81,1053.8L1855.64,1066.6M1871.54,1049.34L1852.14,1060.54M1832.69,1066.55L1810.61,1053.8M1877.81,1015L1895.6,999.1M1876.13,1007.12L1890.94,993.88M1900.56,977.07L1890.21,953.5M1890.21,953.5L1852.21,957.7M1852.21,957.7L1848.91,931.41M1890.21,953.5L1887.39,927.13M1890.21,953.5L1928.21,943.4M1852.21,957.7L1824.51,956.3" stroke="#000" stroke-width="2.4" fill="none" stroke-linecap="round" stroke-linejoin="round"/>
<path d="M1858.55,918.26L1874.98,916.44" stroke="#ff0d0d" stroke-width="2.4" fill="none" stroke-linecap="round"/>
<text x="1541.8" y="1139.28" font-size="22" text-anchor="middle">N</text>
<text x="1844.21" y="1003.48" font-size="22" text-anchor="middle">N</text>
<text x="1844.01" y="985.88" font-size="22" text-anchor="middle">H</text>
<text x="1844.21" y="1081.88" font-size="22" text-anchor="middle">N</text>
<text x="1906.11" y="997.58" font-size="22" text-anchor="middle">N</text>
<text x="1847.41" y="927.38" font-size="22" text-anchor="middle" fill="#ff0d0d" style="fill:#ff0d0d">O</text>
<text x="1886.11" y="923.08" font-size="22" text-anchor="middle" fill="#ff0d0d" style="fill:#ff0d0d">O</text>
<text x="1821.21" y="963.48" font-size="22" text-anchor="end">HO</text>
<line x1="795.1" y1="1395.5" x2="946.1" y2="1395.5" stroke="#000" stroke-width="2.4"/>
<path d="M963.1,1395.5L940.1,1389.5L945.6,1395.5L940.1,1401.5Z" fill="#000"/>
<path d="M1095.4,1370.9L1129,1390.3M1095.1,1378.81L1122.3,1394.51M1129,1390.3L1129,1429.1M1129,1429.1L1095.4,1448.5M1122.3,1424.89L1095.1,1440.59M1095.4,1448.5L1061.8,1429.1M1061.8,1429.1L1061.8,1390.3M1068.8,1425.4L1068.8,1394M1061.8,1390.3L1095.4,1370.9M1061.8,1429.1L1038.33,1442.65M1016.68,1441.85L994.59,1429.1M1028.2,1459.8L1028.2,1487.3M1129,1390.3L1162.6,1370.9M1162.6,1370.9L1196.21,1390.3M1165.67,1364.59L1196.67,1382.49M1196.21,1390.3L1229.81,1370.9M1229.81,1370.9L1263.41,1390.3M1232.87,1364.59L1263.88,1382.49M1263.41,1390.3L1297.01,1370.9M1297.01,1370.9L1297.01,1332.1M1304.01,1367.2L1304.01,1335.8M1297.01,1332.1L1319.09,1319.35M1341.35,1318.9L1364.21,1332.1M1337.85,1324.96L1357.51,1336.31M1364.21,1332.1L1364.21,1370.9M1364.21,1370.9L1342.04,1383.7M1357.94,1366.44L1338.54,1377.64M1319.09,1383.65L1297.01,1370.9M1364.21,1332.1L1385.95,1319.55M1409.33,1319.35L1431.42,1332.1M1435.02,1332.6L1435.02,1359.2M1427.82,1332.6L1427.82,1359.2M1431.42,1332.1L1465.02,1312.7" stroke="#000" stroke-width="2.4" fill="none" stroke-linecap="round" stroke-linejoin="round"/>
<text x="1028.2" y="1456.38" font-size="22" text-anchor="middle">N</text>
<text x="1330.61" y="1320.58" font-size="22" text-anchor="middle">N</text>
<text x="1330.61" y="1398.68" font-size="22" text-anchor="middle">N</text>
<text x="1397.82" y="1320.58" font-size="22" text-anchor="middle">N</text>
<text x="1397.62" y="1302.98" font-size="22" text-anchor="middle">H</text>
<text x="1431.42" y="1378.78" font-size="22" text-anchor="middle">O</text>
<text class="ml" x="1215.8" y="1489.6" text-anchor="middle">ADLumin-3</text>
<path d="M1512.6,1394.5H1538.2M1525.3,1381.8V1407.4" stroke="#000" stroke-width="1.9" fill="none"/>
<rect x="1605.2" y="1346.9" width="187" height="104.6" rx="12.5" ry="12.5" fill="#fff" stroke="#0a2758" stroke-width="2.4"/>
<text class="t" x="1700.6" y="1409.3" text-anchor="middle" fill="#ff0d0d" style="fill:#ff0d0d">Light</text>
</g>
</svg>
</body></html>
